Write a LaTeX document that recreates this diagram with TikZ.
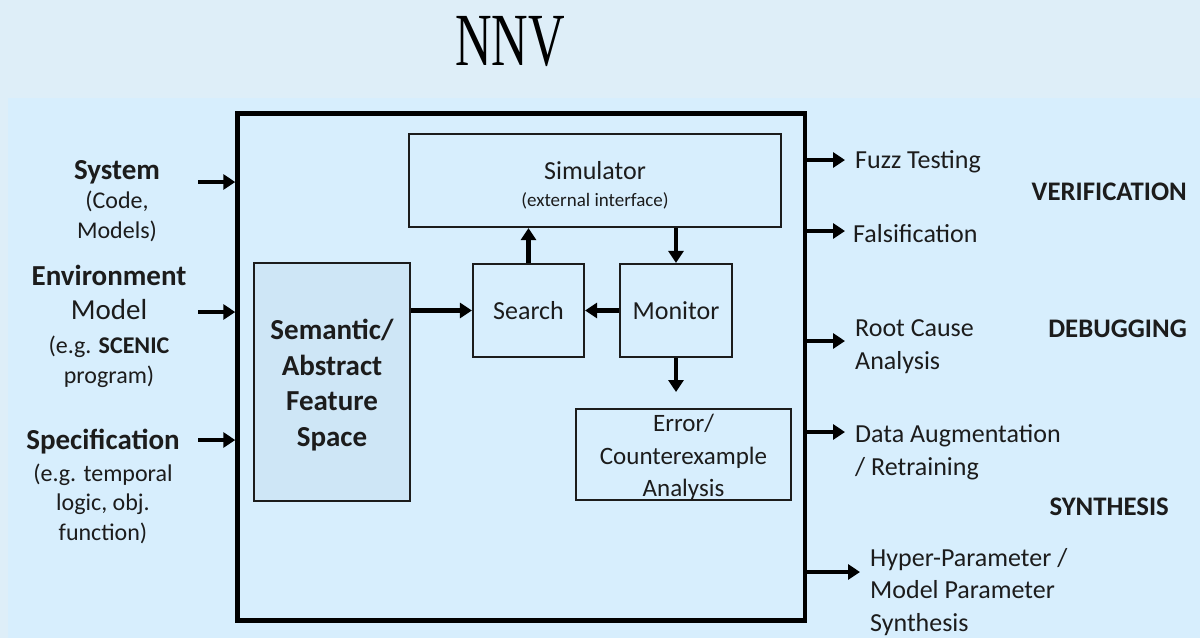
\documentclass[tikz,border=0pt]{standalone}
\usepackage{fontspec}
\usepackage{graphicx}
\setmainfont{Carlito}
\newfontfamily\titlefont{Liberation Serif}
\usetikzlibrary{arrows.meta}

\definecolor{bandbg}{RGB}{222,238,248}
\definecolor{pagebg}{RGB}{215,238,253}
\definecolor{featfill}{RGB}{206,230,246}
\definecolor{ink}{RGB}{28,28,28}

\tikzset{
  box/.style={draw=ink, line width=2.2pt, inner sep=0pt, align=center, text=ink},
  boxtext/.style={align=center, text=ink, inner sep=0pt},
  arr/.style={draw=black, line width=4.3pt, -{Triangle[length=12pt,width=15pt]}},
  lefttext/.style={align=center, text=ink, inner sep=0pt, font=\fontsize{24}{29.5}\selectfont},
  righttext/.style={align=left, text=ink, inner sep=0pt, anchor=base west, font=\fontsize{26}{32.5}\selectfont},
  catlabel/.style={text=ink, inner sep=0pt, anchor=base east, font=\bfseries\fontsize{26.8}{26.8}\selectfont},
}

\begin{document}
\begin{tikzpicture}[x=1pt,y=-1pt]
\useasboundingbox (0,0) rectangle (1200,638);

% backdrop
\fill[bandbg] (0,0) rectangle (1200,638);
\fill[pagebg] (8,98) rectangle (1200,638);

% title
\node[anchor=base, inner sep=0pt] (title) at (510,65)
  {\scalebox{0.675}[1]{\titlefont\fontsize{75}{75}\selectfont NNV}};

% outer framework box
\node[draw=black, line width=4.5pt, minimum width=567.5pt, minimum height=507pt, inner sep=0pt] (main) at (521.25,367) {};

% inputs
\node[lefttext] (sys) at (117,201)
  {{\bfseries\fontsize{29}{29.5}\selectfont System}\\(Code,\\Models)};
\node[lefttext] (env) at (109,326)
  {{\bfseries\fontsize{29}{29.5}\selectfont Environment}\\[5pt]{\fontsize{29}{29.5}\selectfont Model}\\[4.5pt](e.g. \textbf{SCENIC}\\program)};
\node[lefttext] (spec) at (103,486)
  {{\bfseries\fontsize{29}{29.5}\selectfont Specification}\\[2.5pt](e.g. temporal\\logic, obj.\\function)};

\coordinate (sysTail) at (198,182);
\coordinate (envTail) at (198,312);
\coordinate (specTail) at (198,440);
\draw[arr] (sysTail) -- (sysTail -| main.west);
\draw[arr] (envTail) -- (envTail -| main.west);
\draw[arr] (specTail) -- (specTail -| main.west);

% inner components
\node[box, fill=featfill, minimum width=156pt, minimum height=238pt] (feat) at (332,382) {};
\node[boxtext, font=\bfseries\fontsize{29}{35.5}\selectfont] (feattext) at (332,385)
  {Semantic/\\Abstract\\Feature\\Space};
\node[box, minimum width=372pt, minimum height=93pt] (sim) at (595,180.5) {};
\node[boxtext, font=\fontsize{26}{27}\selectfont] (simtext) at (595,185)
  {Simulator\\{\fontsize{19}{27}\selectfont (external interface)}};
\node[box, minimum width=111pt, minimum height=93pt, font=\fontsize{26}{30}\selectfont] (search) at (528.5,310.5) {Search};
\node[box, minimum width=112pt, minimum height=93pt, font=\fontsize{26}{30}\selectfont] (mon) at (676,310.5) {Monitor};
\node[box, minimum width=215pt, minimum height=91pt] (err) at (683.5,454.5) {};
\node[boxtext, font=\fontsize{25}{32.5}\selectfont] (errtext) at (683.5,457.5)
  {Error/\\Counterexample\\Analysis};

\draw[arr] (search.north) -- (search.north |- sim.south);
\draw[arr] (mon.north |- sim.south) -- (mon.north);
\draw[arr] (mon.west) -- (search.east);
\coordinate (monOut) at (676,392);
\draw[arr] (mon.south) -- (monOut);
\draw[arr] (feat.east |- search.west) -- (search.west);

% outputs (anchored at the baseline of the last line)
\node[righttext] (fuzz) at (855,168) {Fuzz Testing};
\node[righttext] (fals) at (853,242) {Falsification};
\node[righttext] (root) at (855,369) {Root Cause\\Analysis};
\node[righttext] (data) at (855,475) {Data Augmentation\\/ Retraining};
\node[righttext] (hyper) at (870,631) {Hyper-Parameter /\\Model Parameter\\Synthesis};

\coordinate (fuzzTip) at (845,160);
\coordinate (falsTip) at (845,231);
\coordinate (rootTip) at (845,341);
\coordinate (dataTip) at (845,432);
\coordinate (hyperTip) at (860,572);
\draw[arr] (main.east |- fuzzTip) -- (fuzzTip);
\draw[arr] (main.east |- falsTip) -- (falsTip);
\draw[arr] (main.east |- rootTip) -- (rootTip);
\draw[arr] (main.east |- dataTip) -- (dataTip);
\draw[arr] (main.east |- hyperTip) -- (hyperTip);

% categories
\node[catlabel] (verif) at (1187,200) {VERIFICATION};
\node[catlabel] (debug) at (1187,337) {DEBUGGING};
\node[catlabel] (synth) at (1169,515) {SYNTHESIS};
\end{tikzpicture}
\end{document}
